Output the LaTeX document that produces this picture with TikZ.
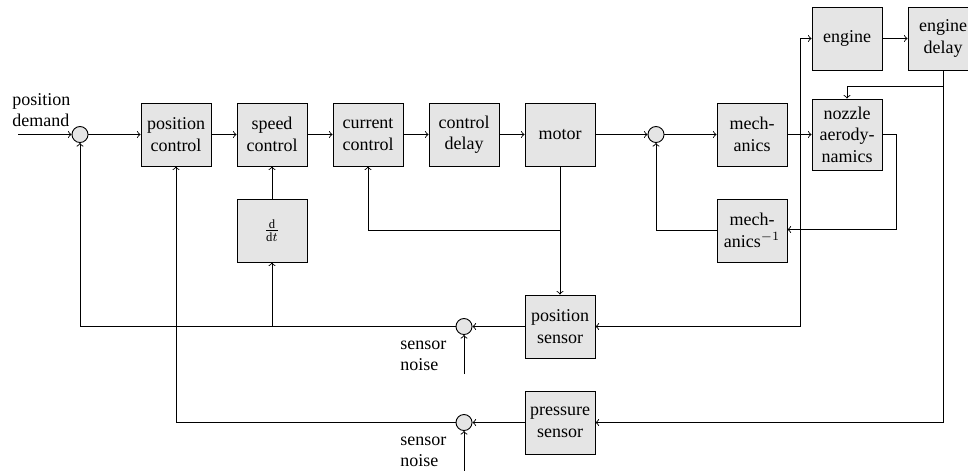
\documentclass[tikz,border=0pt]{standalone}
\usepackage{fontspec}
\setmainfont{Liberation Serif}
\usetikzlibrary{calc}
\begin{document}
\begin{tikzpicture}[x=0.5556pt,y=-0.5556pt,
 blk/.style={draw, fill=gray!20, line width=0.5pt, minimum width=38.9pt, minimum height=35pt, inner sep=2pt, align=center, font=\fontsize{10}{12}\selectfont},
 sumc/.style={draw, fill=gray!20, circle, line width=0.5pt, minimum size=8.9pt, inner sep=0pt},
 arr/.style={line width=0.5pt, ->},
 lbl/.style={align=left, inner sep=0pt, font=\fontsize{10}{12}\selectfont}]
\useasboundingbox (0,0) rectangle (968,470);
\node[sumc] (s1) at (80,134.5) {};
\node[blk] (pc) at (176,134.5) {position\\control};
\node[blk] (sc) at (272,134.5) {speed\\control};
\node[blk] (dd) at (272,230.5) {$\frac{\mathrm{d}}{\mathrm{d}t}$};
\node[blk] (cc) at (368,134.5) {current\\control};
\node[blk] (cd) at (464,134.5) {control\\delay};
\node[blk] (mo) at (560,134.5) {motor};
\node[sumc] (s2) at (656,134.5) {};
\node[blk] (me) at (752,134.5) {mech-\\anics};
\node[blk] (mi) at (752,230.5) {mech-\\anics$^{-1}$};
\node[blk, minimum height=39.4pt] (nz) at (847,134.5) {nozzle\\aerody-\\namics};
\node[blk] (en) at (847,38.5) {engine};
\node[blk] (ed) at (943,38.5) {engine\\delay};
\node[blk] (ps) at (560,326.5) {position\\sensor};
\node[sumc] (s3) at (464,326.5) {};
\node[blk] (prs) at (560,422.5) {pressure\\sensor};
\node[sumc] (s4) at (464,422.5) {};
\node[lbl, anchor=base west] (pd) at (12,126.7) {position\\demand};
\node[lbl, anchor=base west] (sn1) at (400,370.7) {sensor\\noise};
\node[lbl, anchor=base west] (sn2) at (400,466.7) {sensor\\noise};
\coordinate (in) at (18,134.5);
\coordinate (n1) at (464,374);
\coordinate (n2) at (464,472);
\coordinate (bm) at (800,134.5);
\coordinate (bd) at (943,86.5);
\coordinate (nzr) at (896,229.5);
\coordinate (bmo) at (560,230);
\coordinate (bdd) at (272,326.5);
\draw[arr] (in) -- (s1);
\draw[arr] (s1) -- (pc);
\draw[arr] (pc) -- (sc);
\draw[arr] (sc) -- (cc);
\draw[arr] (cc) -- (cd);
\draw[arr] (cd) -- (mo);
\draw[arr] (mo) -- (s2);
\draw[arr] (s2) -- (me);
\draw[arr] (me) -- (nz);
\draw[arr] (en) -- (ed);
\draw[arr] (bm) |- (en.west);
\draw[arr] (bm) |- (ps.east);
\draw[arr] (ed.south) |- (prs.east);
\draw[arr] (bd) -| (nz.north);
\draw[arr] (nz.east) -| (nzr) -- (nzr -| mi.east);
\draw[arr] (mi.west) -| (s2.south);
\draw[arr] (mo.south) -- (ps.north);
\draw[arr] (bmo) -| (cc.south);
\draw[arr] (ps.west) -- (s3.east);
\draw[arr] (s3.west) -| (s1.south);
\draw[arr] (bdd) -- (dd.south);
\draw[arr] (dd.north) -- (sc.south);
\draw[arr] (n1) -- (s3.south);
\draw[arr] (prs.west) -- (s4.east);
\draw[arr] (s4.west) -| (pc.south);
\draw[arr] (n2) -- (s4.south);
\end{tikzpicture}
\end{document}
